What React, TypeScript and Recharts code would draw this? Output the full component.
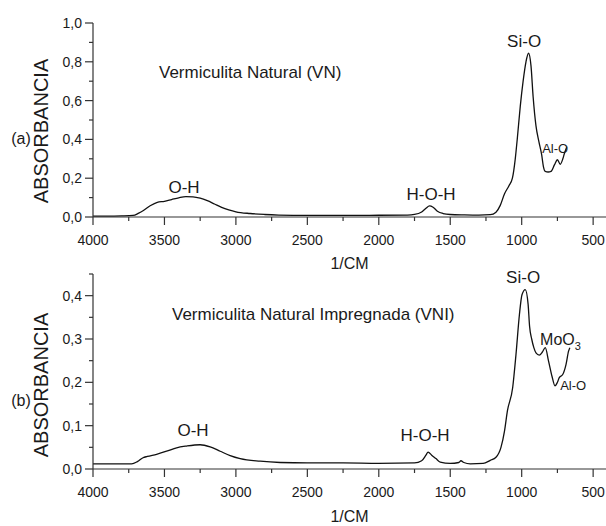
import React from 'react';
import { LineChart, Line, XAxis, YAxis, ReferenceDot } from 'recharts';

// FTIR spectrum (a): natural vermiculite
const waveA = [
  4000, 3900, 3800, 3720, 3680, 3650, 3600, 3550, 3500, 3450, 3400, 3350, 3300,
  3250, 3200, 3150, 3100, 3050, 3000, 2900, 2800, 2700, 2500, 2250, 2000, 1800,
  1750, 1700, 1670, 1645, 1620, 1590, 1550, 1500, 1400, 1300, 1220, 1180, 1150,
  1120, 1090, 1065, 1045, 1030, 1010, 990, 970, 952, 935, 920, 900, 880, 860,
  848, 835, 815, 795, 770, 750, 730, 712, 700, 685,
];
const absA = [
  0.005, 0.005, 0.006, 0.008, 0.02, 0.032, 0.058, 0.076, 0.081, 0.09, 0.099, 0.105, 0.104,
  0.097, 0.084, 0.067, 0.05, 0.037, 0.027, 0.018, 0.013, 0.01, 0.008, 0.008, 0.009, 0.01,
  0.013, 0.026, 0.045, 0.057, 0.05, 0.03, 0.018, 0.013, 0.011, 0.01, 0.012, 0.025, 0.06,
  0.12, 0.16, 0.2, 0.3, 0.41, 0.57, 0.7, 0.8, 0.844, 0.78, 0.62, 0.47, 0.39, 0.32,
  0.26, 0.235, 0.232, 0.235, 0.27, 0.295, 0.272, 0.3, 0.33, 0.36,
];

// FTIR spectrum (b): impregnated natural vermiculite
const waveB = [
  4000, 3800, 3730, 3690, 3650, 3620, 3555, 3485, 3415, 3345, 3250, 3180, 3110,
  3040, 2970, 2830, 2690, 2500, 2250, 2000, 1750, 1700, 1670, 1655, 1630, 1600,
  1570, 1500, 1440, 1425, 1405, 1360, 1270, 1220, 1180, 1145, 1120, 1100, 1063,
  1040, 1016, 998, 975, 955, 945, 930, 915, 900, 877, 855, 835, 812, 788, 767,
  750, 737, 713, 690, 672, 663,
];
const absB = [
  0.012, 0.012, 0.012, 0.017, 0.026, 0.029, 0.034, 0.041, 0.049, 0.053, 0.056, 0.051, 0.041,
  0.031, 0.024, 0.018, 0.015, 0.014, 0.014, 0.013, 0.014, 0.019, 0.032, 0.039, 0.032, 0.024,
  0.016, 0.013, 0.015, 0.019, 0.015, 0.012, 0.013, 0.02, 0.027, 0.05, 0.088, 0.134, 0.188,
  0.264, 0.356, 0.402, 0.414, 0.38, 0.33, 0.3, 0.28, 0.268, 0.263, 0.27, 0.28, 0.249, 0.214, 0.192,
  0.2, 0.211, 0.218, 0.241, 0.272, 0.28,
];

const xTicks = [4000, 3750, 3500, 3250, 3000, 2750, 2500, 2250, 2000, 1750, 1500, 1250, 1000, 750, 500];
const yTicksA = [0, 0.1, 0.2, 0.3, 0.4, 0.5, 0.6, 0.7, 0.8, 0.9, 1.0];
const yTicksB = [0, 0.05, 0.1, 0.15, 0.2, 0.25, 0.3, 0.35, 0.4, 0.45];

// band labels, anchored in data units [text, wavenumber, absorbance, anchor]
const notesA: [string, number, number, string][] = [
  ['Vermiculita Natural (VN)', 3538, 0.716, 'start'],
  ['O-H', 3363, 0.124, 'middle'],
  ['H-O-H', 1634, 0.088, 'middle'],
  ['Si-O', 983, 0.876, 'middle'],
  ['Al-O', 857, 0.33, 'start'],
];
const notesB: [string, number, number, string][] = [
  ['Vermiculita Natural Impregnada (VNI)', 3447, 0.344, 'start'],
  ['O-H', 3300, 0.076, 'middle'],
  ['H-O-H', 1676, 0.065, 'middle'],
  ['Si-O', 990, 0.429, 'middle'],
  ['MoO3', 871, 0.286, 'start'],
  ['Al-O', 731, 0.182, 'start'],
];

const INK = '#1a1a1a';
const AXIS = '#333';
const FONT = '"Liberation Sans", Arial, sans-serif';

const toRows = (w: number[], a: number[]) => w.map((wn, i) => ({ wn, abs: a[i] }));

const XTick = (props: any) => {
  const { x, y, payload } = props;
  const major = payload.value % 500 === 0;
  return (
    <g>
      <line x1={x} x2={x} y1={y} y2={y + (major ? 8 : 4)} stroke={AXIS} strokeWidth={1.2} />
      {major && (
        <text x={x} y={y + 28} textAnchor="middle" fontSize={14} fill={INK}>
          {payload.value}
        </text>
      )}
    </g>
  );
};

const makeYTick = (every: number) => (props: any) => {
  const { x, y, payload } = props;
  const r = payload.value / every;
  const major = Math.abs(r - Math.round(r)) < 1e-6;
  return (
    <g>
      <line x1={x - (major ? 8 : 4)} x2={x} y1={y} y2={y} stroke={AXIS} strokeWidth={1.2} />
      {major && (
        <text x={x - 11} y={y + 5} textAnchor="end" fontSize={14} fill={INK}>
          {payload.value.toFixed(1).replace('.', ',')}
        </text>
      )}
    </g>
  );
};

const noteLabel = (text: string, anchor: string) => (p: any) => {
  const { x, y } = p.viewBox;
  if (text === 'MoO3') {
    return (
      <text x={x} y={y} textAnchor={anchor} fontSize={16} fill={INK}>
        <tspan>MoO</tspan>
        <tspan dy={5} fontSize={11}>3</tspan>
      </text>
    );
  }
  const small = text === 'Al-O';
  return (
    <text x={x} y={y} textAnchor={anchor} fontSize={small ? 13 : 17} fill={INK}>
      {text}
    </text>
  );
};

const Spectrum = (p: {
  rows: { wn: number; abs: number }[];
  yMax: number;
  yTicks: number[];
  majorEvery: number;
  notes: [string, number, number, string][];
  height: number;
  marginTop: number;
  xAxisH: number;
  titleY: number;
  tag: string;
  tagY: number;
  cmOffset: number;
}) => (
  <LineChart width={606} height={p.height} data={p.rows} margin={{ top: p.marginTop, right: 0, bottom: 0, left: 0 }}>
    <XAxis
      type="number"
      dataKey="wn"
      domain={[410, 4000]}
      reversed
      ticks={xTicks}
      interval={0}
      tickSize={0}
      tickMargin={0}
      tickLine={false}
      tick={<XTick />}
      height={p.xAxisH}
      stroke={AXIS}
      strokeWidth={1.2}
      allowDataOverflow
      label={{ value: '1/CM', position: 'insideBottom', offset: p.cmOffset, fontSize: 16, fill: INK }}
    />
    <YAxis
      type="number"
      domain={[0, p.yMax]}
      ticks={p.yTicks}
      interval={0}
      width={93}
      tickSize={0}
      tickMargin={0}
      tickLine={false}
      tick={makeYTick(p.majorEvery)}
      stroke={AXIS}
      strokeWidth={1.2}
      allowDataOverflow
      label={{
        content: () => (
          <g>
            <text x={21} y={p.tagY} textAnchor="middle" fontSize={16} fill={INK}>{p.tag}</text>
            <text
              x={41}
              y={p.titleY}
              transform={`rotate(-90 41 ${p.titleY})`}
              textAnchor="middle"
              dominantBaseline="central"
              fontSize={20}
              fill={INK}
            >
              ABSORBANCIA
            </text>
          </g>
        ),
      }}
    />
    <Line type="monotone" dataKey="abs" stroke="#111" strokeWidth={1.3} dot={false} isAnimationActive={false} />
    {p.notes.map(([text, wn, abs, anchor]) => (
      <ReferenceDot
        key={text + wn}
        x={wn}
        y={abs}
        r={0}
        fill="none"
        stroke="none"
        ifOverflow="visible"
        label={{ content: noteLabel(text, anchor) }}
      />
    ))}
  </LineChart>
);

export default function App() {
  return (
    <div style={{ position: 'absolute', left: 0, top: 0, width: 606, height: 526, background: '#fff', fontFamily: FONT }}>
      <div style={{ position: 'absolute', left: 0, top: 0 }}>
        <Spectrum
          rows={toRows(waveA, absA)}
          yMax={1}
          yTicks={yTicksA}
          majorEvery={0.2}
          notes={notesA}
          height={275}
          marginTop={23}
          xAxisH={58}
          titleY={131}
          tag="(a)"
          tagY={144}
          cmOffset={6}
        />
      </div>
      <div style={{ position: 'absolute', left: 0, top: 263 }}>
        <Spectrum
          rows={toRows(waveB, absB)}
          yMax={0.45}
          yTicks={yTicksB}
          majorEvery={0.1}
          notes={notesB}
          height={263}
          marginTop={11}
          xAxisH={57}
          titleY={122}
          tag="(b)"
          tagY={143}
          cmOffset={4}
        />
      </div>
    </div>
  );
}
